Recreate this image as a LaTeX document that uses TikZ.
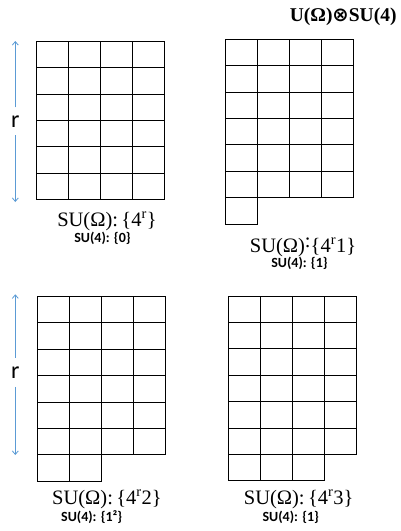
\documentclass[tikz,border=0pt]{standalone}
\usepackage{fontspec}
\setmainfont{Liberation Serif}
\newfontfamily\carl{Carlito}
\newfontfamily\dejavu{DejaVu Sans}
\usetikzlibrary{arrows.meta}
\definecolor{arrblue}{RGB}{91,155,213}
\newcommand\ygrid[4]{%
  \foreach \i in {0,...,3}{\foreach \j in {1,...,#3}{%
    \draw[cell] ({#1+\i*32.1},{#2+(\j-1)*26.4}) rectangle ++(32.1,26.4);}}%
  \ifnum#4>0
  \foreach \i in {1,...,#4}{%
    \draw[cell] ({#1+(\i-1)*32.1},{#2+#3*26.4}) rectangle ++(32.1,26.4);}%
  \fi}
\newcommand\otim{{\dejavu\bfseries ⊗}}
\begin{document}
\begin{tikzpicture}[x=1pt,y=-1pt,
  cell/.style={draw=black,line width=0.9pt},
  arr/.style={draw=arrblue,line width=0.8pt,-{Straight Barb[length=3.5pt,width=6pt]}},
  rlab/.style={font=\carl\fontsize{24}{24}\selectfont,inner sep=0pt,text=black},
  mainlab/.style={anchor=base,inner sep=0pt,font=\fontsize{20.5}{20.5}\selectfont},
  sublab/.style={anchor=base,inner sep=0pt,font=\carl\bfseries\fontsize{14}{14}\selectfont},
  titlelab/.style={anchor=base east,inner sep=0pt,font=\bfseries\fontsize{19.5}{19.5}\selectfont}]
\fill[white] (0,0) rectangle (401,531);
\useasboundingbox (0,0) rectangle (401,531);
% title
\node[titlelab] (title) at (396.7,21.6) {U(Ω)\otim SU(4)};
% grids
\ygrid{36.3}{41.3}{6}{0}
\ygrid{225}{39.3}{6}{1}
\ygrid{37.3}{296.5}{6}{2}
\ygrid{228.3}{296}{6}{3}
% arrows
\node[rlab,minimum height=27.3pt] (r1) at (15.3,121.3) {r};
\coordinate (a1t) at (15.3,41);
\coordinate (a1b) at (15.3,202);
\draw[arr] (r1.north) -- (a1t);
\draw[arr] (r1.south) -- (a1b);
\node[rlab,minimum height=29pt] (r2) at (15.3,372.2) {r};
\coordinate (a2t) at (15.3,294.3);
\coordinate (a2b) at (15.3,455);
\draw[arr] (r2.north) -- (a2t);
\draw[arr] (r2.south) -- (a2b);
% labels
\node[mainlab] (l1) at (107,226) {SU(Ω):\,\{4\textsuperscript{r}\}};
\node[sublab] (s1) at (102.5,242) {SU(4): \{0\}};
\node[mainlab] (l2) at (303,252.5) {SU(Ω)\raisebox{0.22em}{:}\{4\textsuperscript{r}1\}};
\node[sublab] (s2) at (299.5,267.5) {SU(4): \{1\}};
\node[mainlab] (l3) at (107,504.5) {SU(Ω):\,\{4\textsuperscript{r}2\}};
\node[sublab] (s3) at (91.7,521) {SU(4): \{1²\}};
\node[mainlab] (l4) at (298.7,504.5) {SU(Ω):\,\{4\textsuperscript{r}3\}};
\node[sublab] (s4) at (290.8,521) {SU(4): \{1\}};
\end{tikzpicture}
\end{document}
